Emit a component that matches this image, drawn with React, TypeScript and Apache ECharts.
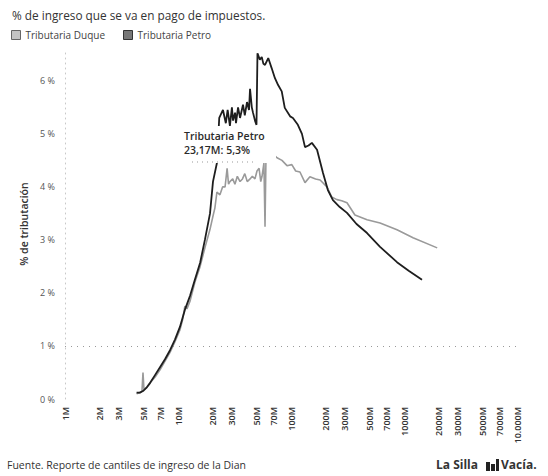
import React, { useEffect, useRef } from "react";
import * as echarts from "echarts";

// Income in millions of pesos (log scale) and tax rate in %
const duqueIncome = [4.3, 4.6, 4.8, 4.9, 5.0, 5.3, 5.65, 6.3, 6.93, 7.7, 8.5, 9.4, 10.4, 11.0, 11.5, 12.0, 12.8, 14.1, 15.7, 17.3, 19.2, 20.4, 21.2, 22.1, 23.5, 24.8, 26.1, 27.2, 28.0, 28.8, 30.5, 31.9, 33.5, 35.4, 37.2, 39.0, 41.0, 43.4, 45.5, 48.0, 50.0, 52.2, 54.0, 55.4, 57.6, 58.9, 60.0, 64.0, 67.9, 75.2, 83.2, 92.2, 101.7, 110, 120, 133, 147, 165, 181, 208, 229, 255, 281, 313, 368, 471, 614, 867, 1202, 1967];
const duqueRate = [0.1, 0.12, 0.15, 0.5, 0.18, 0.22, 0.3, 0.42, 0.55, 0.72, 0.88, 1.08, 1.3, 1.5, 1.75, 1.7, 1.85, 2.2, 2.5, 2.85, 3.2, 3.45, 3.6, 3.9, 3.85, 4.0, 4.0, 4.35, 4.05, 4.1, 4.15, 4.05, 4.2, 4.1, 4.15, 4.25, 4.1, 4.15, 4.2, 4.15, 4.3, 4.35, 4.1, 4.2, 4.45, 3.25, 4.5, 4.6, 4.64, 4.55, 4.5, 4.4, 4.42, 4.3, 4.28, 4.08, 4.19, 4.15, 4.13, 4.0, 3.81, 3.76, 3.74, 3.7, 3.47, 3.38, 3.32, 3.19, 3.04, 2.85];

const petroIncome = [4.3, 4.6, 4.9, 5.3, 5.65, 6.26, 6.93, 7.67, 8.5, 9.4, 10.4, 11.5, 12.8, 14.1, 15.7, 17.3, 19.2, 20.4, 22.1, 23.17, 25.0, 26.5, 27.5, 28.8, 30.0, 30.7, 32.0, 32.6, 34.0, 35.4, 37.6, 39.0, 40.8, 42.5, 43.4, 45.0, 46.1, 48.0, 49.5, 50.5, 53.0, 55.1, 57.0, 58.9, 62.9, 67.4, 72.1, 76.9, 82.8, 88.1, 98.2, 104, 115, 125, 133, 143, 153, 170, 192, 212, 235, 270, 313, 380, 471, 614, 867, 1100, 1443];
const petroRate = [0.12, 0.12, 0.15, 0.22, 0.3, 0.45, 0.6, 0.75, 0.92, 1.12, 1.36, 1.68, 1.95, 2.25, 2.57, 3.0, 3.5, 4.1, 4.45, 5.3, 5.45, 5.2, 5.45, 5.15, 5.5, 5.25, 5.4, 5.2, 5.5, 5.3, 5.55, 5.35, 5.6, 5.45, 5.85, 5.5, 5.4, 5.25, 5.17, 6.52, 6.4, 6.45, 6.32, 6.3, 6.43, 6.24, 6.05, 5.92, 5.8, 5.49, 5.33, 5.3, 5.17, 5.0, 4.75, 4.78, 4.83, 4.7, 4.26, 3.94, 3.75, 3.62, 3.51, 3.3, 3.13, 2.87, 2.58, 2.42, 2.25];

const xTickValues = [1, 2, 3, 5, 7, 10, 20, 30, 50, 70, 100, 200, 300, 500, 700, 1000, 2000, 3000, 5000, 7000, 10000];
const yTickValues = [0, 1, 2, 3, 4, 5, 6];

const seriesNames = ["Tributaria Duque", "Tributaria Petro"];
const highlightLabel = ["Tributaria Petro", "23,17M: 5,3%"];

const FONT = "'Open Sans', 'Noto Sans', sans-serif";

const fmtM = (m: number) => (m >= 10000 ? m.toLocaleString("de-DE") : String(m)) + "M";

export default function App() {
  const ref = useRef<HTMLDivElement>(null);
  useEffect(() => {
    document.body.style.margin = "0";
    const chart = echarts.init(ref.current!, null, { renderer: "svg" });
    const toData = (inc: number[], rate: number[]) => inc.map((m, i) => [Math.log10(m), rate[i]]);
    chart.setOption({
      animation: false,
      backgroundColor: "#ffffff",
      textStyle: { fontFamily: FONT },
      title: {
        text: "% de ingreso que se va en pago de impuestos.",
        left: 7,
        top: 4,
        textStyle: { fontSize: 11.8, fontWeight: 500, color: "#333", fontFamily: FONT },
      },
      legend: {
        left: 6,
        top: 25,
        icon: "rect",
        itemWidth: 9,
        itemHeight: 9,
        itemGap: 18,
        textStyle: { fontSize: 10, color: "#444", fontFamily: FONT },
        data: [
          { name: seriesNames[0], itemStyle: { color: "#c4c4c4", borderColor: "#666", borderWidth: 1 } },
          { name: seriesNames[1], itemStyle: { color: "#777", borderColor: "#333", borderWidth: 1 } },
        ],
      },
      grid: { left: 65, right: 31, top: 49, bottom: 77, outerBoundsMode: "none" },
      xAxis: {
        type: "value",
        min: 0,
        max: 4,
        splitLine: { show: false },
        axisLine: { show: false },
        axisTick: { show: false },
        axisLabel: {
          customValues: xTickValues.map((v) => Math.log10(v)),
          rotate: 90,
          margin: 8,
          fontSize: 9,
          fontWeight: 600,
          color: "#333",
          fontFamily: FONT,
          formatter: (v: number) => fmtM(Math.round(Math.pow(10, v))),
        },
      },
      yAxis: {
        type: "value",
        min: 0,
        max: 6.6,
        interval: 1,
        name: "% de tributación",
        nameLocation: "middle",
        nameGap: 36,
        nameTextStyle: { fontSize: 10.5, fontWeight: 600, color: "#333", fontFamily: FONT },
        splitLine: { show: false },
        axisLine: { show: true, lineStyle: { color: "#c8c8c8", type: [1, 4], width: 1 } },
        axisTick: { show: false },
        axisLabel: {
          customValues: yTickValues,
          margin: 10,
          fontSize: 9,
          color: "#555",
          fontFamily: FONT,
          formatter: (v: number) => `${v} %`,
        },
      },
      series: [
        {
          name: seriesNames[0],
          type: "line",
          showSymbol: false,
          data: toData(duqueIncome, duqueRate),
          lineStyle: { color: "#9a9a9a", width: 1.6 },
          itemStyle: { color: "#9a9a9a" },
          z: 2,
          markLine: {
            silent: true,
            symbol: "none",
            label: { show: false },
            lineStyle: { color: "#999", type: [1, 5], width: 1 },
            data: [{ yAxis: 1 }],
          },
        },
        {
          name: seriesNames[1],
          type: "line",
          showSymbol: false,
          data: toData(petroIncome, petroRate),
          lineStyle: { color: "#1e1e1e", width: 1.8 },
          itemStyle: { color: "#1e1e1e" },
          z: 3,
        },
      ],
      graphic: [
        { type: "rect", z: 100, shape: { x: 180, y: 126, width: 96, height: 37 }, style: { fill: "#ffffff" } },
        {
          type: "text",
          z: 101,
          x: 184,
          y: 130,
          style: { text: highlightLabel[0], fontSize: 10.5, fontWeight: 600, fill: "#2a2a2a", fontFamily: FONT },
        },
        {
          type: "text",
          z: 101,
          x: 184,
          y: 144,
          style: { text: highlightLabel[1], fontSize: 10.5, fontWeight: 600, fill: "#2a2a2a", fontFamily: FONT },
        },
        {
          type: "line",
          z: 101,
          shape: { x1: 192, y1: 162, x2: 254, y2: 162 },
          style: { stroke: "#999", lineWidth: 1, lineDash: [1, 4] },
        },
        {
          type: "text",
          left: 7,
          top: 459,
          style: { text: "Fuente. Reporte de cantiles de ingreso de la Dian", fontSize: 10.5, fill: "#333", fontFamily: FONT },
        },
        {
          type: "text",
          x: 436,
          y: 458,
          style: { text: "La Silla", fontSize: 12, fontWeight: 700, fill: "#333", fontFamily: FONT },
        },
        {
          type: "group",
          x: 486,
          y: 458,
          children: [
            { type: "rect", shape: { x: 0, y: 4, width: 4, height: 9 }, style: { fill: "#222" } },
            { type: "rect", shape: { x: 5, y: 6, width: 4, height: 7 }, style: { fill: "#222" } },
            { type: "rect", shape: { x: 10, y: 1, width: 3, height: 12 }, style: { fill: "#222" } },
          ],
        },
        {
          type: "text",
          x: 501,
          y: 458,
          style: { text: "Vacía.", fontSize: 12, fontWeight: 700, fill: "#333", fontFamily: FONT },
        },
      ],
    });
    return () => chart.dispose();
  }, []);
  return <div ref={ref} style={{ width: 548, height: 476 }} />;
}
